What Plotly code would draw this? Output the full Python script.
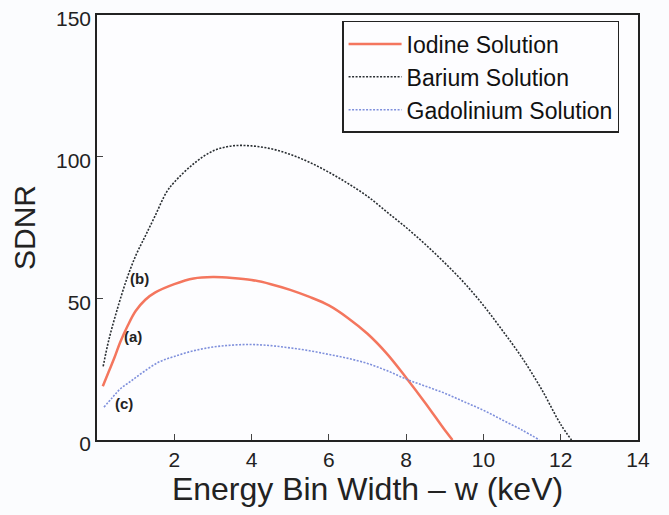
import plotly.graph_objects as go

# Data
iodine_x = [0.15, 0.3, 0.45, 0.6, 0.8, 1.0, 1.25, 1.5, 2.0, 2.5, 3.0, 3.5, 4.0, 4.5, 5.0, 5.5, 6.0, 6.5, 7.0, 7.5, 8.0, 8.5, 9.0, 9.2]
iodine_y = [19, 24, 29, 34.5, 40.5, 45.5, 49.5, 52, 55, 57, 57.5, 57.2, 56.5, 55, 53, 50.5, 47.5, 43, 37.5, 30.5, 22, 13, 3.5, 0]

barium_x = [0.16, 0.3, 0.5, 0.75, 1.0, 1.25, 1.5, 1.8, 2.0, 2.5, 3.0, 3.5, 4.0, 4.5, 5.0, 5.5, 6.0, 6.5, 7.0, 7.5, 8.0, 8.5, 9.0, 9.5, 10.0, 10.5, 11.0, 11.5, 12.0, 12.28]
barium_y = [26, 35, 45, 56, 65, 72, 79, 87.5, 91, 97.5, 102, 103.8, 103.8, 102.8, 100.8, 98, 94.5, 90.5, 86, 80.5, 75, 69, 62.5, 55.5, 47.5, 38.5, 29, 18, 5.5, 0]

gado_x = [0.18, 0.4, 0.6, 0.9, 1.2, 1.6, 2.0, 2.5, 3.0, 3.5, 4.0, 4.5, 5.0, 5.5, 6.0, 6.5, 7.0, 7.5, 8.0, 8.5, 9.0, 9.5, 10.0, 10.5, 11.0, 11.45]
gado_y = [11.6, 15, 18, 21, 24, 27.5, 29.5, 31.5, 32.8, 33.5, 33.7, 33.3, 32.5, 31.5, 30.2, 28.8, 27, 24.5, 21.5, 19, 16.5, 13.5, 10.5, 7, 3.5, 0]

x_ticks = [2, 4, 6, 8, 10, 12, 14]
y_ticks = [0, 50, 100, 150]

labels = ["(b)", "(a)", "(c)"]
label_x = [1.11, 0.94, 0.7]
label_y = [57, 36.5, 13]

FONT = "Liberation Sans, Arial, sans-serif"

fig = go.Figure()
fig.add_trace(go.Scatter(x=iodine_x, y=iodine_y, mode="lines", name="Iodine Solution",
                         line=dict(color="#f4765e", width=2.5), line_shape="spline",
                         legendgroup="a"))
fig.add_trace(go.Scatter(x=barium_x, y=barium_y, mode="lines", name="Barium Solution",
                         line=dict(color="#2a2f33", width=1.6, dash="2px,1.5px"), line_shape="spline",
                         legendgroup="b"))
fig.add_trace(go.Scatter(x=gado_x, y=gado_y, mode="lines", name="Gadolinium Solution",
                         line=dict(color="#7f90dc", width=1.6, dash="2px,1.5px"), line_shape="spline",
                         legendgroup="c"))

for t, xx, yy in zip(labels, label_x, label_y):
    fig.add_annotation(x=xx, y=yy, text="<b>" + t + "</b>", showarrow=False,
                       font=dict(size=15, color="#222", family=FONT))

fig.update_layout(
    width=669, height=515,
    margin=dict(l=97, r=31, t=15, b=75),
    paper_bgcolor="#fbfcfe",
    plot_bgcolor="#fdfdff",
    font=dict(family=FONT, color="#222"),
    showlegend=True,
    legend=dict(x=0.453, y=0.986, xanchor="left", yanchor="top",
                bordercolor="#222", borderwidth=1.5, bgcolor="#fdfdff",
                font=dict(size=23, family=FONT, color="#111"),
                traceorder="grouped", tracegroupgap=0, itemwidth=53),
    xaxis=dict(range=[0, 14], tickvals=x_ticks, ticks="inside", ticklen=6,
               tickfont=dict(size=21), showgrid=False, zeroline=False,
               showline=True, linecolor="#222", linewidth=1.5, mirror=True,
               automargin=False, ticklabeloverflow="allow",
               title=dict(text="Energy Bin Width \u2013 w (keV)", font=dict(size=32), standoff=6)),
    yaxis=dict(range=[0, 150], tickvals=y_ticks, ticks="inside", ticklen=6,
               tickfont=dict(size=21), showgrid=False, zeroline=False,
               showline=True, linecolor="#222", linewidth=1.5, mirror=True,
               automargin=False, ticklabeloverflow="allow", ticklabelshift=4,
               title=dict(text="SDNR", font=dict(size=30), standoff=12)),
)

fig.write_html("out.html", config={"displayModeBar": False},
               post_script="document.body.style.margin='0';")
